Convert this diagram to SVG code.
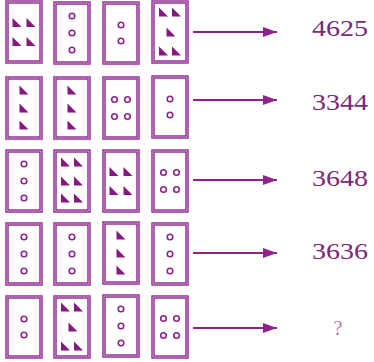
<svg xmlns="http://www.w3.org/2000/svg" xmlns:xlink="http://www.w3.org/1999/xlink" width="374" height="362" viewBox="0 0 374 362">
<style>
.fo{fill:none;stroke:#8c248c;stroke-width:3.4}
.fi{fill:none;stroke:#dcb0dc;stroke-width:0.9}
.tri{fill:#86187f}
.cir{fill:#fff;stroke:#8c248c;stroke-width:1.6}
.num{font-family:"Liberation Serif","Times New Roman",serif;font-size:24px;fill:#7a2878;text-anchor:middle}
.q{font-family:"Liberation Serif","Times New Roman",serif;font-size:20px;fill:#b77bb5;text-anchor:middle}
.arr{stroke:#8c248c;stroke-width:2;fill:none}
</style>
<defs>
<marker id="ah" markerWidth="14" markerHeight="10" refX="14" refY="5" orient="auto" markerUnits="userSpaceOnUse">
<path d="M0,0 L14,5 L0,10 Z" fill="#8c248c"/>
</marker>
<g id="frame"><rect class="fo" x="-17" y="-30" width="34" height="60"/><rect class="fi" x="-17" y="-30" width="34" height="60"/></g>
<path id="t" class="tri" d="M-4.5,-4.5 L-4.5,4.5 L4.5,4.5 Z"/>
<circle id="o" class="cir" r="2.8"/>
<g id="c2"><use href="#o" y="-8"/><use href="#o" y="8"/></g>
<g id="c3"><use href="#o" y="-17"/><use href="#o" y="0"/><use href="#o" y="17"/></g>
<g id="c4"><use href="#o" x="-6.5" y="-8.5"/><use href="#o" x="6.5" y="-8.5"/><use href="#o" x="-6.5" y="8.5"/><use href="#o" x="6.5" y="8.5"/></g>
<g id="t3"><use href="#t" y="-18"/><use href="#t" y="0"/><use href="#t" y="17"/></g>
<g id="t4"><use href="#t" x="-7" y="-9.5"/><use href="#t" x="7" y="-9.5"/><use href="#t" x="-7" y="9.5"/><use href="#t" x="7" y="9.5"/></g>
<g id="t5"><use href="#t" x="-6.5" y="-20"/><use href="#t" x="6.5" y="-20"/><use href="#t" x="1" y="0"/><use href="#t" x="-6.5" y="19"/><use href="#t" x="6.5" y="19"/></g>
<g id="t6"><use href="#t" x="-6.5" y="-19"/><use href="#t" x="6.5" y="-19"/><use href="#t" x="-6.5" y="0"/><use href="#t" x="6.5" y="0"/><use href="#t" x="-6.5" y="17"/><use href="#t" x="6.5" y="17"/></g>
</defs>
<rect width="374" height="362" fill="#fff"/>

<g id="r1c1" transform="translate(24,32)"><use href="#frame"/><use href="#t4"/></g>
<g id="r1c2" transform="translate(72,33)"><use href="#frame"/><use href="#c3"/></g>
<g id="r1c3" transform="translate(121,33)"><use href="#frame"/><use href="#c2"/></g>
<g id="r1c4" transform="translate(170,32)"><use href="#frame"/><use href="#t5"/></g>

<g id="r2c1" transform="translate(24,108)"><use href="#frame"/><use href="#t3"/></g>
<g id="r2c2" transform="translate(72,108)"><use href="#frame"/><use href="#t3"/></g>
<g id="r2c3" transform="translate(121,108)"><use href="#frame"/><use href="#c4"/></g>
<g id="r2c4" transform="translate(170,107)"><use href="#frame"/><use href="#c2"/></g>

<g id="r3c1" transform="translate(24,181)"><use href="#frame"/><use href="#c3"/></g>
<g id="r3c2" transform="translate(72,181)"><use href="#frame"/><use href="#t6"/></g>
<g id="r3c3" transform="translate(121,181)"><use href="#frame"/><use href="#t4"/></g>
<g id="r3c4" transform="translate(170,181)"><use href="#frame"/><use href="#c4"/></g>

<g id="r4c1" transform="translate(24,254)"><use href="#frame"/><use href="#c3"/></g>
<g id="r4c2" transform="translate(72,254)"><use href="#frame"/><use href="#c3"/></g>
<g id="r4c3" transform="translate(121,253)"><use href="#frame"/><use href="#t3"/></g>
<g id="r4c4" transform="translate(170,254)"><use href="#frame"/><use href="#c3"/></g>

<g id="r5c1" transform="translate(24,327)"><use href="#frame"/><use href="#c2"/></g>
<g id="r5c2" transform="translate(72,327)"><use href="#frame"/><use href="#t5"/></g>
<g id="r5c3" transform="translate(121,326)"><use href="#frame"/><use href="#c3"/></g>
<g id="r5c4" transform="translate(170,327)"><use href="#frame"/><use href="#c4"/></g>

<g id="connectors">
<line class="arr" x1="193" y1="32" x2="277" y2="32" marker-end="url(#ah)"/>
<line class="arr" x1="193" y1="100" x2="277" y2="100" marker-end="url(#ah)"/>
<line class="arr" x1="193" y1="180" x2="277" y2="180" marker-end="url(#ah)"/>
<line class="arr" x1="193" y1="253" x2="277" y2="253" marker-end="url(#ah)"/>
<line class="arr" x1="193" y1="328" x2="277" y2="328" marker-end="url(#ah)"/>
</g>

<g id="n1"><text class="num" x="340" y="36" textLength="56" lengthAdjust="spacingAndGlyphs">4625</text></g>
<g id="n2"><text class="num" x="340" y="110" textLength="56" lengthAdjust="spacingAndGlyphs">3344</text></g>
<g id="n3"><text class="num" x="340" y="186" textLength="56" lengthAdjust="spacingAndGlyphs">3648</text></g>
<g id="n4"><text class="num" x="340" y="259" textLength="56" lengthAdjust="spacingAndGlyphs">3636</text></g>
<g id="n5"><text class="q" x="338" y="335">?</text></g>
</svg>
